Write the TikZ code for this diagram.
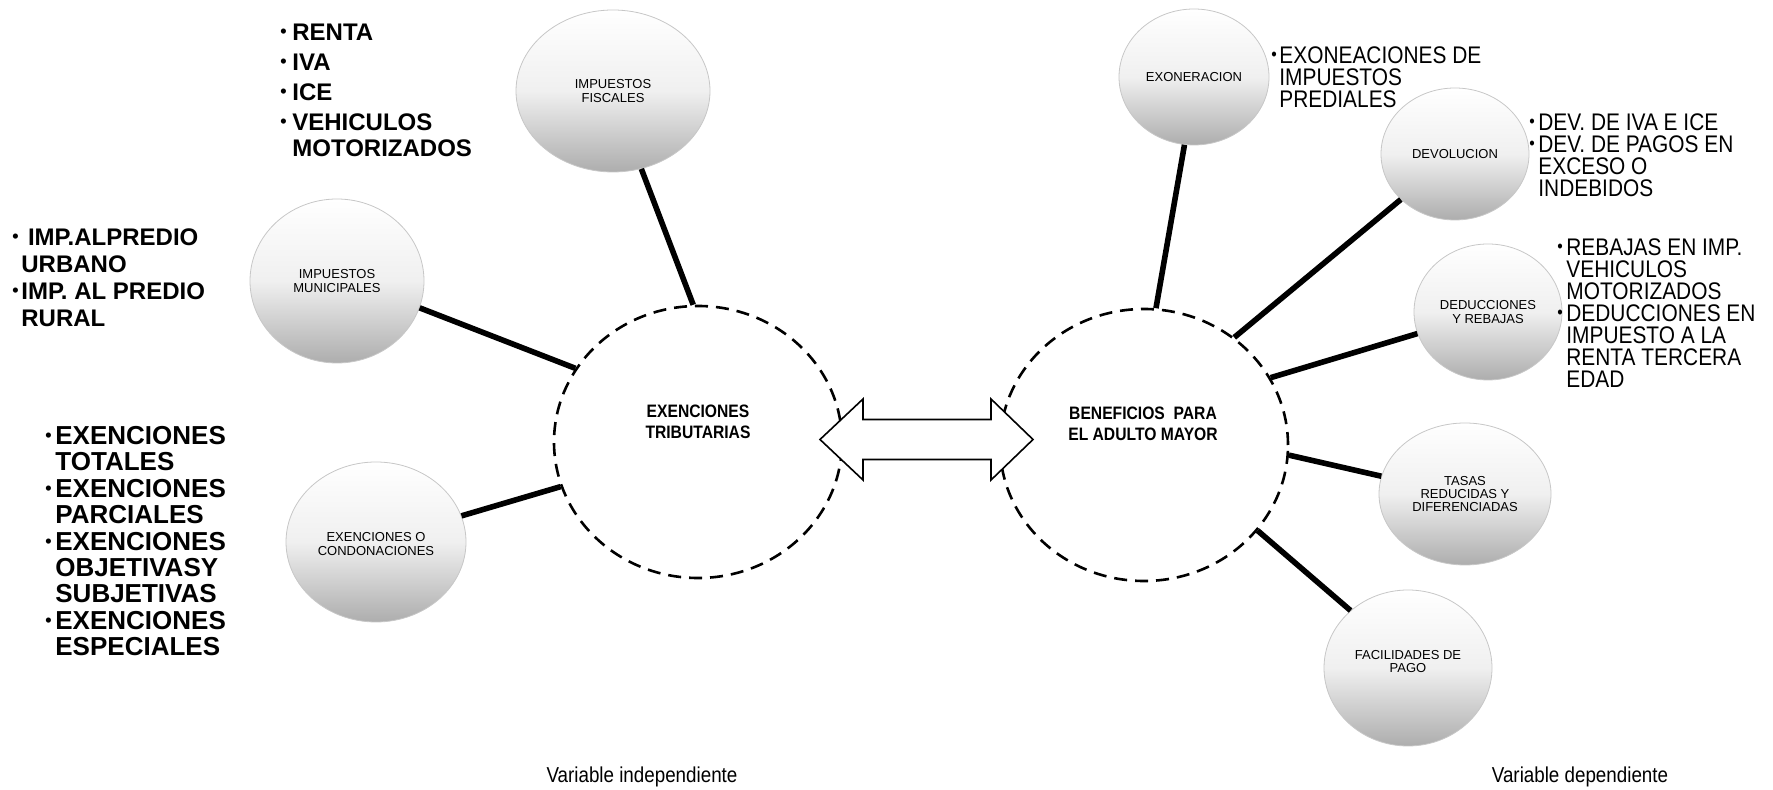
\documentclass[tikz,border=0pt]{standalone}
\usepackage{fontspec}
\setmainfont{Liberation Sans}
\newfontfamily\narrowfont[FakeStretch=0.87]{Liberation Sans}
\usetikzlibrary{shapes.geometric}
\newcommand{\bu}[1]{\makebox[#1][l]{\raisebox{1.5pt}{\fontsize{9pt}{9pt}\selectfont\textbullet}}}

\begin{document}
\begin{tikzpicture}[x=0.5pt,y=-0.5pt,
	bubble/.style={ellipse, inner sep=0pt, align=center, draw=black!22, line width=0.4pt,
		top color=white, bottom color=black!32, middle color=black!6,
		font=\fontsize{6.5pt}{6.6pt}\selectfont},
	hub/.style={ellipse, draw, line width=1.3pt, dash pattern=on 6.5pt off 4pt,
		minimum width=144pt, minimum height=136pt, inner sep=0pt},
	hubtext/.style={align=center, inner sep=0pt, font=\narrowfont\bfseries\fontsize{9pt}{10.5pt}\selectfont},
	link/.style={line width=2.8pt},
	boldlist/.style={anchor=north west, inner sep=0pt, align=left},
	thinlist/.style={anchor=north west, inner sep=0pt, align=left},
	]
	\useasboundingbox (0,0) rectangle (1773,790);
	% Hubs
	\node[hub] (ti) at (698,442) {};
	\node[hub] (bi) at (1144,445) {};
	\node[hubtext] (titext) at (698,422) {EXENCIONES\\TRIBUTARIAS};
	\node[hubtext] (bitext) at (1143,424) {BENEFICIOS~ PARA\\EL ADULTO MAYOR};
	% Double arrow
	\draw[line width=0.8pt, fill=white] (820,439.5) -- (863,399) -- (863,419.5) -- (991,419.5)
		-- (991,399) -- (1033,439.5) -- (991,480) -- (991,459.5) -- (863,459.5) -- (863,480) -- cycle;
	% Left bubbles
	\node[bubble, minimum width=97pt, minimum height=81pt] (fis) at (613,91) {IMPUESTOS\\FISCALES};
	\node[bubble, minimum width=87pt, minimum height=82pt] (mun) at (337,281) {IMPUESTOS\\MUNICIPALES};
	\node[bubble, minimum width=90pt, minimum height=80pt] (con) at (376,542) {\\EXENCIONES O\\CONDONACIONES};
	% Right bubbles
	\node[bubble, minimum width=75pt, minimum height=68pt] (exo) at (1194,77) {EXONERACION};
	\node[bubble, minimum width=74pt, minimum height=66pt] (dev) at (1455,154) {DEVOLUCION};
	\node[bubble, minimum width=74pt, minimum height=68pt] (ded) at (1488,312) {DEDUCCIONES\\Y REBAJAS};
	\node[bubble, minimum width=86pt, minimum height=71pt] (tas) at (1465,494) {TASAS\\REDUCIDAS Y\\DIFERENCIADAS};
	\node[bubble, minimum width=84pt, minimum height=78pt] (fac) at (1408,668) {FACILIDADES DE\\PAGO\\};
	% Connectors
	\foreach \a/\b in {fis.-70/ti.92, mun.-18/ti.149, con.17/ti.198,
		exo.262/bi.85, dev.220/bi.50, ded.197/bi.28, tas.168/bi.-4, fac.135/bi.-37}
		\draw[link] (\a) -- (\b);
	% Left lists
	\node[boldlist, font=\bfseries\fontsize{12pt}{13pt}\selectfont] (fislist) at (280,24)
		{\bu{6pt}RENTA\\[2pt]\bu{6pt}IVA\\[2pt]\bu{6pt}ICE\\[2pt]\bu{6pt}VEHICULOS\\\hspace*{6pt}MOTORIZADOS};
	\node[boldlist, font=\bfseries\fontsize{12pt}{13.5pt}\selectfont] (munlist) at (12,228)
		{\bu{4.5pt}\ IMP.ALPREDIO\\\hspace*{4.5pt}URBANO\\\bu{4.5pt}IMP. AL PREDIO\\\hspace*{4.5pt}RURAL};
	\node[boldlist, font=\bfseries\fontsize{13pt}{13.2pt}\selectfont] (conlist) at (45,426)
		{\bu{5pt}EXENCIONES\\\hspace*{5pt}TOTALES\\\bu{5pt}EXENCIONES\\\hspace*{5pt}PARCIALES\\
		\bu{5pt}EXENCIONES\\\hspace*{5pt}OBJETIVASY\\\hspace*{5pt}SUBJETIVAS\\\bu{5pt}EXENCIONES\\\hspace*{5pt}ESPECIALES};
	% Right lists
	\node[thinlist, font=\narrowfont\fontsize{12pt}{11pt}\selectfont] (exolist) at (1271,46)
		{\bu{4pt}EXONEACIONES DE\\\hspace*{4pt}IMPUESTOS\\\hspace*{4pt}PREDIALES};
	\node[thinlist, font=\narrowfont\fontsize{12pt}{11pt}\selectfont] (devlist) at (1529,113)
		{\bu{4.5pt}DEV. DE IVA E ICE\\\bu{4.5pt}DEV. DE PAGOS EN\\\hspace*{4.5pt}EXCESO O\\\hspace*{4.5pt}INDEBIDOS};
	\node[thinlist, font=\narrowfont\fontsize{12pt}{11pt}\selectfont] (dedlist) at (1557,238)
		{\bu{4.5pt}REBAJAS EN IMP.\\\hspace*{4.5pt}VEHICULOS\\\hspace*{4.5pt}MOTORIZADOS\\\bu{4.5pt}DEDUCCIONES EN\\
		\hspace*{4.5pt}IMPUESTO A LA\\\hspace*{4.5pt}RENTA TERCERA\\\hspace*{4.5pt}EDAD};
	% Captions
	\node[font=\narrowfont\fontsize{10.8pt}{12pt}\selectfont] (indep) at (642,777) {Variable independiente};
	\node[font=\narrowfont\fontsize{10.8pt}{12pt}\selectfont] (dep) at (1580,777) {Variable dependiente};
\end{tikzpicture}
\end{document}
